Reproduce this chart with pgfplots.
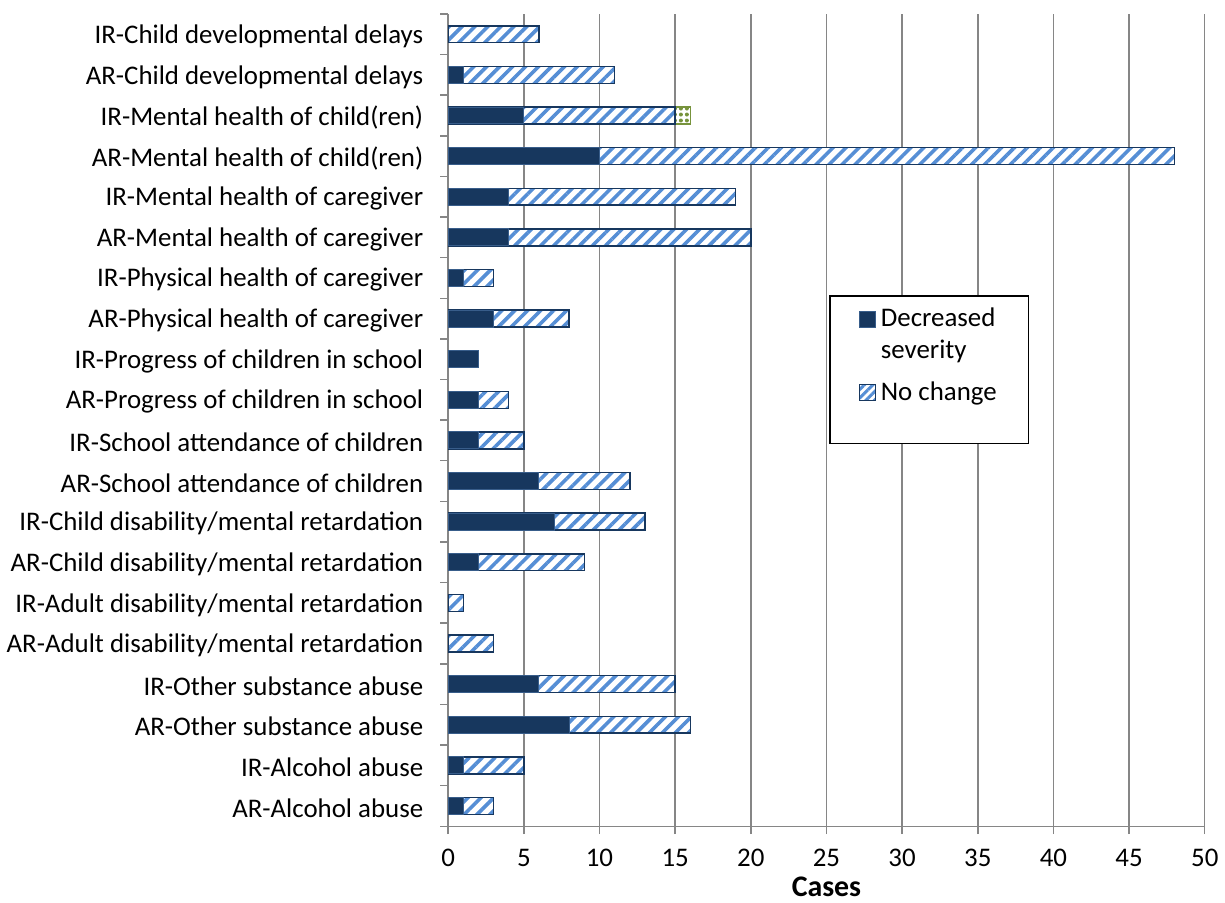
\documentclass[border=0pt]{standalone}
\usepackage{fontspec}
\setmainfont{Carlito}
\usepackage{pgfplots}
\pgfplotsset{compat=1.18}
\usetikzlibrary{patterns.meta}
\definecolor{navy}{RGB}{23,55,94}
\definecolor{navyedge}{RGB}{56,93,138}
\definecolor{stripe}{RGB}{85,142,213}
\definecolor{gridgray}{RGB}{134,134,134}
\definecolor{olivegreen}{RGB}{119,147,60}
\begin{document}
\begin{tikzpicture}[font=\fontsize{13.5}{16}\selectfont]
\begin{axis}[name=ax, scale only axis, width=380pt, height=408pt,
  xmin=0, xmax=50, ymin=-0.5, ymax=19.5,
  xtick={0,5,...,50}, ytick={0,...,19},
  yticklabels={AR-Alcohol abuse, IR-Alcohol abuse, AR-Other substance abuse, IR-Other substance abuse,
    AR-Adult disability/mental retardation, IR-Adult disability/mental retardation,
    AR-Child disability/mental retardation, IR-Child disability/mental retardation,
    AR-School attendance of children, IR-School attendance of children,
    AR-Progress of children in school, IR-Progress of children in school,
    AR-Physical health of caregiver, IR-Physical health of caregiver,
    AR-Mental health of caregiver, IR-Mental health of caregiver,
    AR-Mental health of child(ren), IR-Mental health of child(ren),
    AR-Child developmental delays, IR-Child developmental delays},
  minor ytick={-0.5,0.5,...,19.5},
  axis x line*=bottom, axis y line*=left,
  axis line style={gridgray, line width=0.75pt, -},
  tick align=outside,
  major tick length=4pt, minor tick length=4pt,
  major x tick style={gridgray, line width=0.75pt},
  major y tick style={draw=none},
  minor y tick style={gridgray, line width=0.75pt},
  xmajorgrids, major x grid style={gridgray, line width=0.75pt},
  /pgf/number format/assume math mode=true,
  yticklabel style={xshift=-5pt, yshift=-1pt},
  xticklabel style={yshift=-4pt},
  xlabel={\fontsize{15}{18}\selectfont\bfseries Cases},
  xlabel style={yshift=2pt},
  legend cell align=left,
  legend style={at={(rel axis cs:0.504,0.6535)}, anchor=north west, draw=black, line width=0.6pt,
    inner xsep=14pt, inner ysep=4pt, row sep=6pt, cells={align=left}, font=\fontsize{13.5}{16}\selectfont},
]
\addlegendimage{legend image code/.code={\draw[fill=navy, draw=navyedge, line width=0.5pt] (0pt,3.5pt) rectangle (8pt,11.5pt);}}
\addlegendentry{Decreased\\severity}
\addlegendimage{legend image code/.code={\draw[draw=navy, line width=0.6pt, preaction={fill=white}, pattern={Lines[angle=45,distance=3pt,line width=1.5pt]}, pattern color=stripe] (0pt,-4pt) rectangle (8pt,4pt);}}
\addlegendentry{No change}
\addlegendimage{empty legend}
\addlegendentry{\rule{0pt}{3pt}}

% increased severity (total)
\addplot[xbar, bar width=8.5pt, bar shift=0pt, forget plot, draw=olivegreen, line width=0.75pt,
  preaction={fill=white}, pattern={Dots[distance=3pt,radius=1pt]}, pattern color=olivegreen]
  coordinates {(16,17)};
% no change (cumulative total)
\addplot[xbar, bar width=8.5pt, bar shift=0pt, forget plot, draw=navy, line width=0.75pt,
  preaction={fill=white}, pattern={Lines[angle=45,distance=4.6pt,line width=1.8pt]}, pattern color=stripe]
  coordinates {(3,0) (5,1) (16,2) (15,3) (3,4) (1,5) (9,6) (13,7) (12,8) (5,9) (4,10) (2,11)
   (8,12) (3,13) (20,14) (19,15) (48,16) (15,17) (11,18) (6,19)};
% decreased severity
\addplot[xbar, bar width=8.5pt, bar shift=0pt, forget plot, draw=navyedge, fill=navy, line width=0.5pt]
  coordinates {(1,0) (1,1) (8,2) (6,3) (7,7) (2,6) (6,8) (2,9) (2,10) (2,11)
   (3,12) (1,13) (4,14) (4,15) (10,16) (5,17) (1,18)};
\end{axis}
\path[use as bounding box] ([shift={(-224pt,-34.5pt)}]ax.south west) rectangle ++(612.5pt,449.5pt);
\end{tikzpicture}
\end{document}
